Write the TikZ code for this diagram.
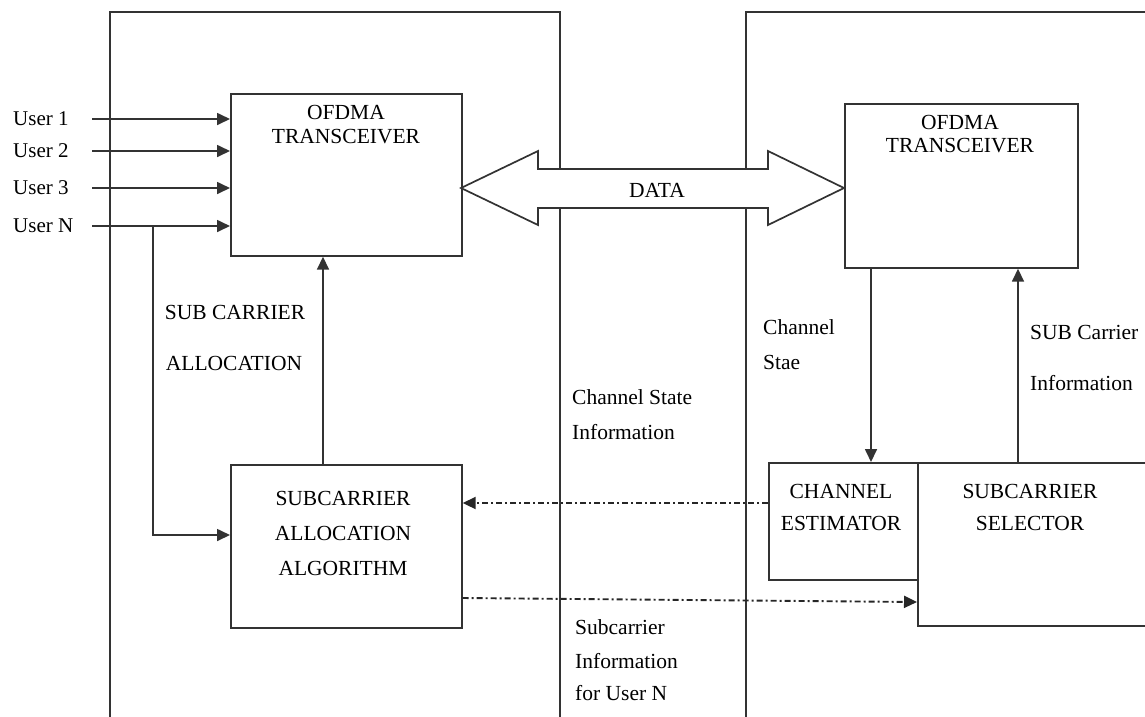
\documentclass[tikz,border=0pt]{standalone}
\usepackage{fontspec}
\setmainfont{Liberation Serif}
\usetikzlibrary{arrows.meta}
\begin{document}
\begin{tikzpicture}[x=1pt,y=-1pt,
  ln/.style={draw=black!80, line width=1.7pt},
  box/.style={ln, rectangle, inner sep=0pt, anchor=north west},
  txt/.style={font=\fontsize{21.5}{25}\selectfont, inner sep=0pt, text=black},
  arr/.style={ln, -{Triangle[length=13pt,width=12pt]}},
  dd/.style={draw=black!85, line width=1.9pt, dash pattern=on 6pt off 3pt on 2pt off 3pt, -{Triangle[length=13pt,width=12pt]}},
]
\useasboundingbox (0,0) rectangle (1145,716);
% panels
\draw[ln] (110,720) -- (110,12) -- (560,12) -- (560,720);
\draw[ln] (746,720) -- (746,12) -- (1150,12);
% boxes
\node[box, minimum width=231pt, minimum height=162pt] (ofl) at (230,93) {};
\node[box, minimum width=233pt, minimum height=164pt] (ofr) at (844,103) {};
\node[box, minimum width=231pt, minimum height=163pt] (alg) at (230,464) {};
\node[box, minimum width=149pt, minimum height=117pt] (est) at (768,462) {};
\node[box, minimum width=260pt, minimum height=163pt] (sel) at (917,462) {};
% data arrow
\draw[ln, fill=white, line join=miter] (461,188) -- (538,151) -- (538,169) -- (768,169) -- (768,151) -- (844,188) -- (768,225) -- (768,208) -- (538,208) -- (538,225) -- cycle;
\node[txt] (data) at (657,190) {DATA};
% box texts
\node[txt] (ofl1) at (346,112) {OFDMA};
\node[txt] (ofl2) at (346,137) {TRANSCEIVER};
\node[txt] (ofr1) at (960,122) {OFDMA};
\node[txt] (ofr2) at (960,146) {TRANSCEIVER};
\node[txt] (alg1) at (343,498) {SUBCARRIER};
\node[txt] (alg2) at (343,533) {ALLOCATION};
\node[txt] (alg3) at (343,568) {ALGORITHM};
\node[txt] (est1) at (841,491) {CHANNEL};
\node[txt] (est2) at (841,523) {ESTIMATOR};
\node[txt] (sel1) at (1030,491) {SUBCARRIER};
\node[txt] (sel2) at (1030,523) {SELECTOR};
% users
\foreach \i/\t/\yy in {1/User 1/119, 2/User 2/151, 3/User 3/188, 4/User N/226}{
  \node[txt, anchor=west, font=\fontsize{21}{25}\selectfont] (ul\i) at (13,\yy) {\t};
  \coordinate (u\i) at (92,\yy);
  \draw[arr] (u\i) -- (ofl.west |- u\i);
}
\coordinate (bN) at (153,226);
\coordinate (bN2) at (153,535);
\draw[arr] (bN) -- (bN2) -- (alg.west |- bN2);
% vertical arrows
\draw[arr] (alg.north -| 323,0) -- (ofl.south -| 323,0);
\draw[arr] (ofr.south -| 871,0) -- (est.north -| 871,0);
\draw[arr] (sel.north -| 1018,0) -- (ofr.south -| 1018,0);
% dash-dot arrows
\draw[dd] (est.west |- 0,503) -- (alg.east |- 0,503);
\draw[dd] (alg.east |- 0,598) -- (sel.west |- 0,602);
% labels
\node[txt] (sca1) at (235,312) {SUB CARRIER};
\node[txt] (sca2) at (234,363) {ALLOCATION};
\node[txt, anchor=west] (cs1) at (763,327) {Channel};
\node[txt, anchor=west] (cs2) at (763,362) {Stae};
\node[txt, anchor=west] (sc1) at (1030,332) {SUB Carrier};
\node[txt, anchor=west] (sc2) at (1030,383) {Information};
\node[txt, anchor=west] (csi1) at (572,397) {Channel State};
\node[txt, anchor=west] (csi2) at (572,432) {Information};
\node[txt, anchor=west] (si1) at (575,627) {Subcarrier};
\node[txt, anchor=west] (si2) at (575,661) {Information};
\node[txt, anchor=west] (si3) at (575,693) {for User N};
\end{tikzpicture}
\end{document}
